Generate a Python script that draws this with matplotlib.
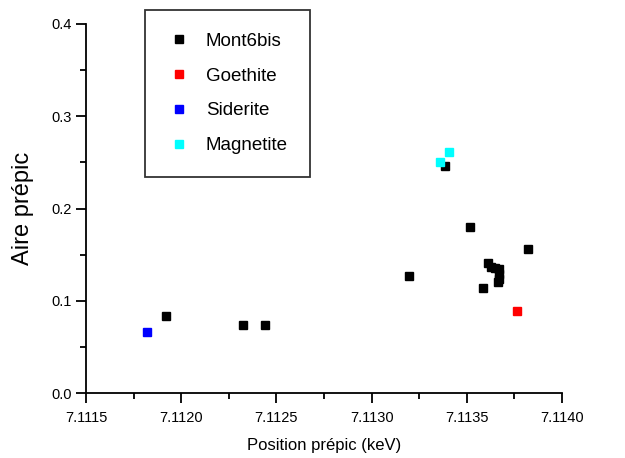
import numpy as np
import matplotlib.pyplot as plt
from matplotlib.ticker import MultipleLocator, FormatStrFormatter

plt.rcParams['font.family'] = ['Liberation Sans', 'DejaVu Sans']

# data
mont_x = [7.111918, 7.112327, 7.112442, 7.113197, 7.113386, 7.113515, 7.113585,
          7.113610, 7.113625, 7.113646, 7.113667, 7.113667, 7.113667, 7.113662,
          7.113821]
mont_y = [0.0831, 0.0734, 0.0734, 0.1265, 0.2464, 0.1796, 0.1138,
          0.1410, 0.1366, 0.1355, 0.1344, 0.1290, 0.1236, 0.1203,
          0.1558]
goeth_x = [7.113763]
goeth_y = [0.0886]
sider_x = [7.111822]
sider_y = [0.0665]
magn_x = [7.113358, 7.113405]
magn_y = [0.2501, 0.2609]

fig = plt.figure(figsize=(6.25, 4.58), dpi=100)
ax = fig.add_axes([0.1376, 0.1419, 0.7616, 0.8057])

ms = 6
ax.plot(mont_x, mont_y, 's', color='black', ms=ms, label='Mont6bis')
ax.plot(goeth_x, goeth_y, 's', color='red', ms=ms, label='Goethite')
ax.plot(sider_x, sider_y, 's', color='blue', ms=ms, label='Siderite')
ax.plot(magn_x, magn_y, 's', color='cyan', ms=ms, label='Magnetite')

ax.set_xlim(7.1115, 7.1140)
ax.set_ylim(0.0, 0.4)
ax.xaxis.set_major_locator(MultipleLocator(0.0005))
ax.xaxis.set_minor_locator(MultipleLocator(0.00025))
ax.yaxis.set_major_locator(MultipleLocator(0.1))
ax.yaxis.set_minor_locator(MultipleLocator(0.05))
ax.xaxis.set_major_formatter(FormatStrFormatter('%.4f'))
ax.yaxis.set_major_formatter(FormatStrFormatter('%.1f'))

for s in ['top', 'right']:
    ax.spines[s].set_visible(False)
for s in ['left', 'bottom']:
    ax.spines[s].set_linewidth(1.3)
ax.tick_params(which='major', direction='out', length=7, width=1.3, labelsize=10.5)
ax.tick_params(which='minor', direction='out', length=4, width=1.3)
ax.tick_params(axis='x', pad=6)

ax.set_xlabel('Position prépic (keV)', fontsize=12, labelpad=9)
ax.set_ylabel('Aire prépic', fontsize=17, labelpad=12)

leg = ax.legend(loc='upper left', bbox_to_anchor=(0.124, 1.038), fontsize=13.5,
                frameon=True, fancybox=False, edgecolor='black',
                labelspacing=0.95, handletextpad=0.85, borderpad=1.2,
                handlelength=1.2, borderaxespad=0)
leg.get_frame().set_linewidth(1.3)

fig.savefig('out.png', dpi=100)
